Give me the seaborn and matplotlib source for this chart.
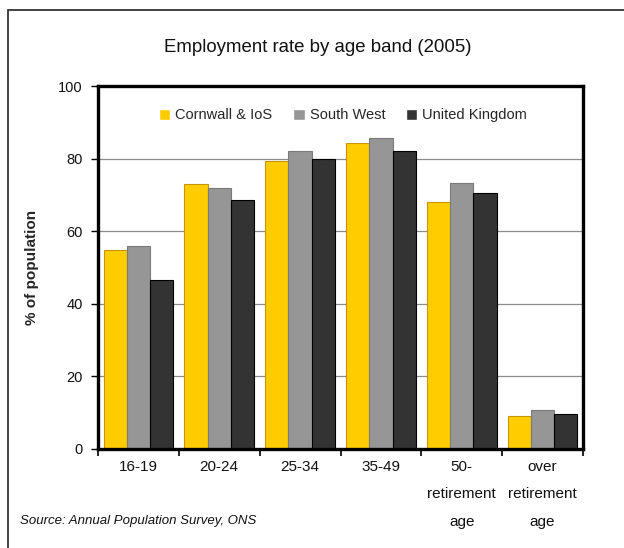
import matplotlib
matplotlib.use("Agg")
import matplotlib.pyplot as plt
from matplotlib.patches import Rectangle
import seaborn as sns
import pandas as pd

# Employment rate (%) by age band, 2005
age_bands = ["16-19", "20-24", "25-34", "35-49", "50-\nretirement\nage", "over\nretirement\nage"]
regions = ["Cornwall & IoS", "South West", "United Kingdom"]
cornwall = [54.8, 72.9, 79.4, 84.2, 68.1, 9.0]
south_west = [56.0, 71.8, 82.1, 85.7, 73.3, 10.8]
united_kingdom = [46.6, 68.5, 79.8, 82.1, 70.5, 9.7]
y_ticks = [0, 20, 40, 60, 80, 100]

fill_colors = ["#FFCC00", "#969696", "#333333"]
edge_colors = ["#C89600", "#7A7A7A", "#000000"]

df = pd.DataFrame({
    "band": age_bands * 3,
    "region": [regions[0]] * 6 + [regions[1]] * 6 + [regions[2]] * 6,
    "rate": cornwall + south_west + united_kingdom,
})

sns.set_theme(style="white")
plt.rcParams["font.family"] = ["Liberation Sans", "DejaVu Sans"]

fig = plt.figure(figsize=(6.24, 5.48), dpi=100)
ax = fig.add_axes([98 / 624, 1 - 449 / 548, (583 - 98) / 624, (449 - 86) / 548])

sns.barplot(data=df, x="band", y="rate", hue="region", order=age_bands,
            hue_order=regions, palette=fill_colors, width=0.86,
            saturation=1, ax=ax, zorder=3)

for cont, ec in zip(ax.containers, edge_colors):
    for bar in cont:
        bar.set_edgecolor(ec)
        bar.set_linewidth(0.8)

ax.set_ylim(0, 100)
ax.set_xlim(-0.5, len(age_bands) - 0.5)
ax.set_yticks(y_ticks)
ax.set_yticklabels([str(v) for v in y_ticks], fontsize=10.5, color="#111111")
ax.yaxis.grid(True, color="#8C8C8C", linewidth=0.9, zorder=0)
ax.xaxis.grid(False)
ax.set_axisbelow(True)

# Tick marks sit between categories; labels at category centres
ax.set_xticks([i - 0.5 for i in range(len(age_bands) + 1)])
ax.set_xticklabels([])
ax.set_xticks(range(len(age_bands)), minor=True)
ax.set_xticklabels(age_bands, minor=True, fontsize=11, linespacing=2.2,
                   color="#111111")
ax.tick_params(axis="x", which="major", direction="out", length=5, width=1.2,
               color="black", bottom=True)
ax.tick_params(axis="x", which="minor", length=0, pad=8)
ax.tick_params(axis="y", direction="out", length=5, width=1.0, color="black",
               left=True, pad=6)

for side in ["top", "bottom", "left", "right"]:
    ax.spines[side].set_visible(True)
    ax.spines[side].set_color("black")
    ax.spines[side].set_linewidth(2.4)
    ax.spines[side].set_zorder(5)

ax.set_xlabel("")
ax.set_ylabel("% of population", fontsize=11, fontweight="bold", labelpad=14)

handles, labels = ax.get_legend_handles_labels()
ax.legend(handles, labels, loc="upper center", bbox_to_anchor=(0.505, 0.975),
          ncol=3, frameon=False, fontsize=10.5, handlelength=0.8,
          handleheight=0.8, handletextpad=0.35, columnspacing=1.4)

fig.text(318 / 624, 1 - 48 / 548, "Employment rate by age band (2005)",
         ha="center", va="center", fontsize=13.4, color="#111111")
fig.text(20 / 624, 1 - 521 / 548, "Source: Annual Population Survey, ONS",
         ha="left", va="center", fontsize=9.5, style="italic", color="#111111")

# Outer frame around the chart
fig.patches.append(Rectangle((8 / 624, -0.1), 1.2, 1.1 - 10 / 548,
                             transform=fig.transFigure, fill=False,
                             edgecolor="#333333", linewidth=1.3))

fig.savefig("out.png", dpi=100)
